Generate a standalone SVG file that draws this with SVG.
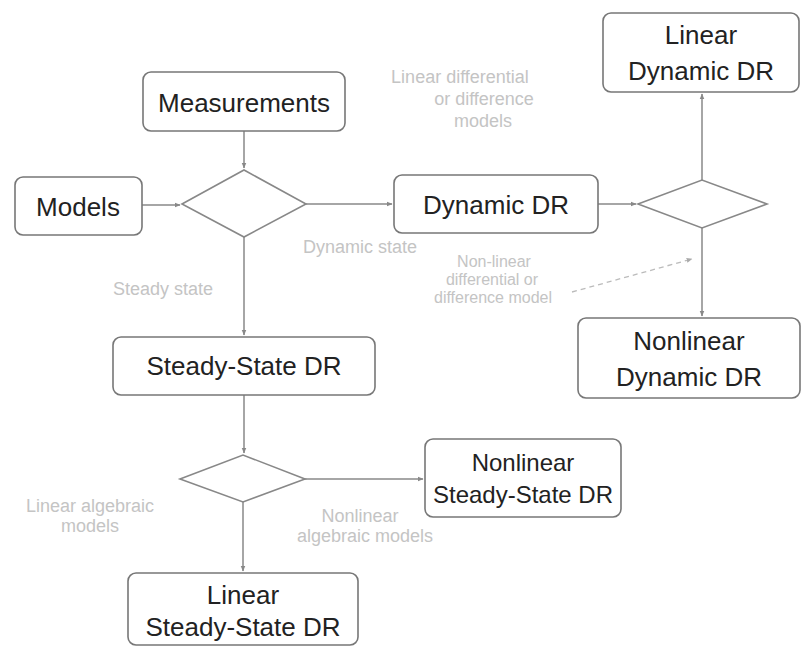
<svg xmlns="http://www.w3.org/2000/svg" width="811" height="649" viewBox="0 0 811 649">
<style>
.box{fill:#fff;stroke:#777;stroke-width:1.6}
.dia{fill:#fff;stroke:#888;stroke-width:1.6}
.t{font-family:"Liberation Sans",Arial,sans-serif;font-size:26px;fill:#222;text-anchor:middle}
.t24{font-size:24px}
.lb{font-family:"Liberation Sans",Arial,sans-serif;font-size:18px;fill:#c4c4c4;text-anchor:middle}
.sm{font-size:16px}
.ln{fill:none;stroke:#888;stroke-width:1.5}
.dl{fill:none;stroke:#bbb;stroke-width:1.3;stroke-dasharray:5 4}
</style>
<defs>
<marker id="a" viewBox="0 0 10 10" refX="9" refY="5" markerWidth="6" markerHeight="6" orient="auto" markerUnits="userSpaceOnUse">
<path d="M0,1 L10,5 L0,9 Z" fill="#888"/>
</marker>
<marker id="b" viewBox="0 0 10 10" refX="9" refY="5" markerWidth="6" markerHeight="6" orient="auto" markerUnits="userSpaceOnUse">
<path d="M0,1 L10,5 L0,9 Z" fill="#aaa"/>
</marker>
</defs>
<rect width="811" height="649" fill="#fff"/>
<g id="connectors">
<line class="ln" x1="244" y1="131" x2="244" y2="168" marker-end="url(#a)"/>
<line class="ln" x1="142" y1="205" x2="180" y2="205" marker-end="url(#a)"/>
<line class="ln" x1="306" y1="204" x2="392" y2="204" marker-end="url(#a)"/>
<line class="ln" x1="598" y1="204" x2="636" y2="204" marker-end="url(#a)"/>
<line class="ln" x1="702" y1="180" x2="702" y2="94" marker-end="url(#a)"/>
<line class="ln" x1="702" y1="228" x2="702" y2="316" marker-end="url(#a)"/>
<line class="ln" x1="244" y1="237" x2="244" y2="335" marker-end="url(#a)"/>
<line class="ln" x1="244" y1="395" x2="244" y2="453" marker-end="url(#a)"/>
<line class="ln" x1="305" y1="479" x2="423" y2="479" marker-end="url(#a)"/>
<line class="ln" x1="243" y1="502" x2="243" y2="571" marker-end="url(#a)"/>
<line class="dl" x1="572" y1="292" x2="692" y2="259" marker-end="url(#b)"/>
</g>
<g id="measurements"><rect class="box" x="143" y="72" width="202" height="59" rx="8"/><text class="t" x="244" y="112">Measurements</text></g>
<g id="models"><rect class="box" x="15" y="177" width="127" height="58" rx="8"/><text class="t" x="78" y="216">Models</text></g>
<g id="decision1"><polygon class="dia" points="182,204 244,170 306,204 244,237"/></g>
<g id="dynamic-dr"><rect class="box" x="394" y="175" width="204" height="58" rx="8"/><text class="t" x="496" y="214">Dynamic DR</text></g>
<g id="decision2"><polygon class="dia" points="638,204 702,180 767,204 702,228"/></g>
<g id="linear-dynamic-dr"><rect class="box" x="603" y="13" width="196" height="79" rx="8"/><text class="t" x="701" y="44">Linear</text><text class="t" x="701" y="80">Dynamic DR</text></g>
<g id="nonlinear-dynamic-dr"><rect class="box" x="578" y="318" width="222" height="80" rx="8"/><text class="t" x="689" y="350">Nonlinear</text><text class="t" x="689" y="386">Dynamic DR</text></g>
<g id="steady-state-dr"><rect class="box" x="113" y="337" width="262" height="58" rx="8"/><text class="t" x="244" y="375">Steady-State DR</text></g>
<g id="decision3"><polygon class="dia" points="180,479 243,455 305,479 243,502"/></g>
<g id="nonlinear-ss-dr"><rect class="box" x="425" y="439" width="196" height="78" rx="8"/><text class="t t24" x="523" y="471">Nonlinear</text><text class="t t24" x="523" y="503">Steady-State DR</text></g>
<g id="linear-ss-dr"><rect class="box" x="128" y="573" width="230" height="72" rx="8"/><text class="t" x="243" y="604">Linear</text><text class="t" x="243" y="636">Steady-State DR</text></g>
<g id="labels">
<text class="lb" x="460" y="83">Linear differential</text>
<text class="lb" x="484" y="105">or difference</text>
<text class="lb" x="483" y="127">models</text>
<text class="lb" x="360" y="253">Dynamic state</text>
<text class="lb" x="163" y="295">Steady state</text>
<text class="lb sm" x="494" y="267">Non-linear</text>
<text class="lb sm" x="492" y="285">differential or</text>
<text class="lb sm" x="493" y="303">difference model</text>
<text class="lb" x="90" y="512">Linear algebraic</text>
<text class="lb" x="90" y="532">models</text>
<text class="lb" x="360" y="522">Nonlinear</text>
<text class="lb" x="365" y="542">algebraic models</text>
</g>
</svg>
